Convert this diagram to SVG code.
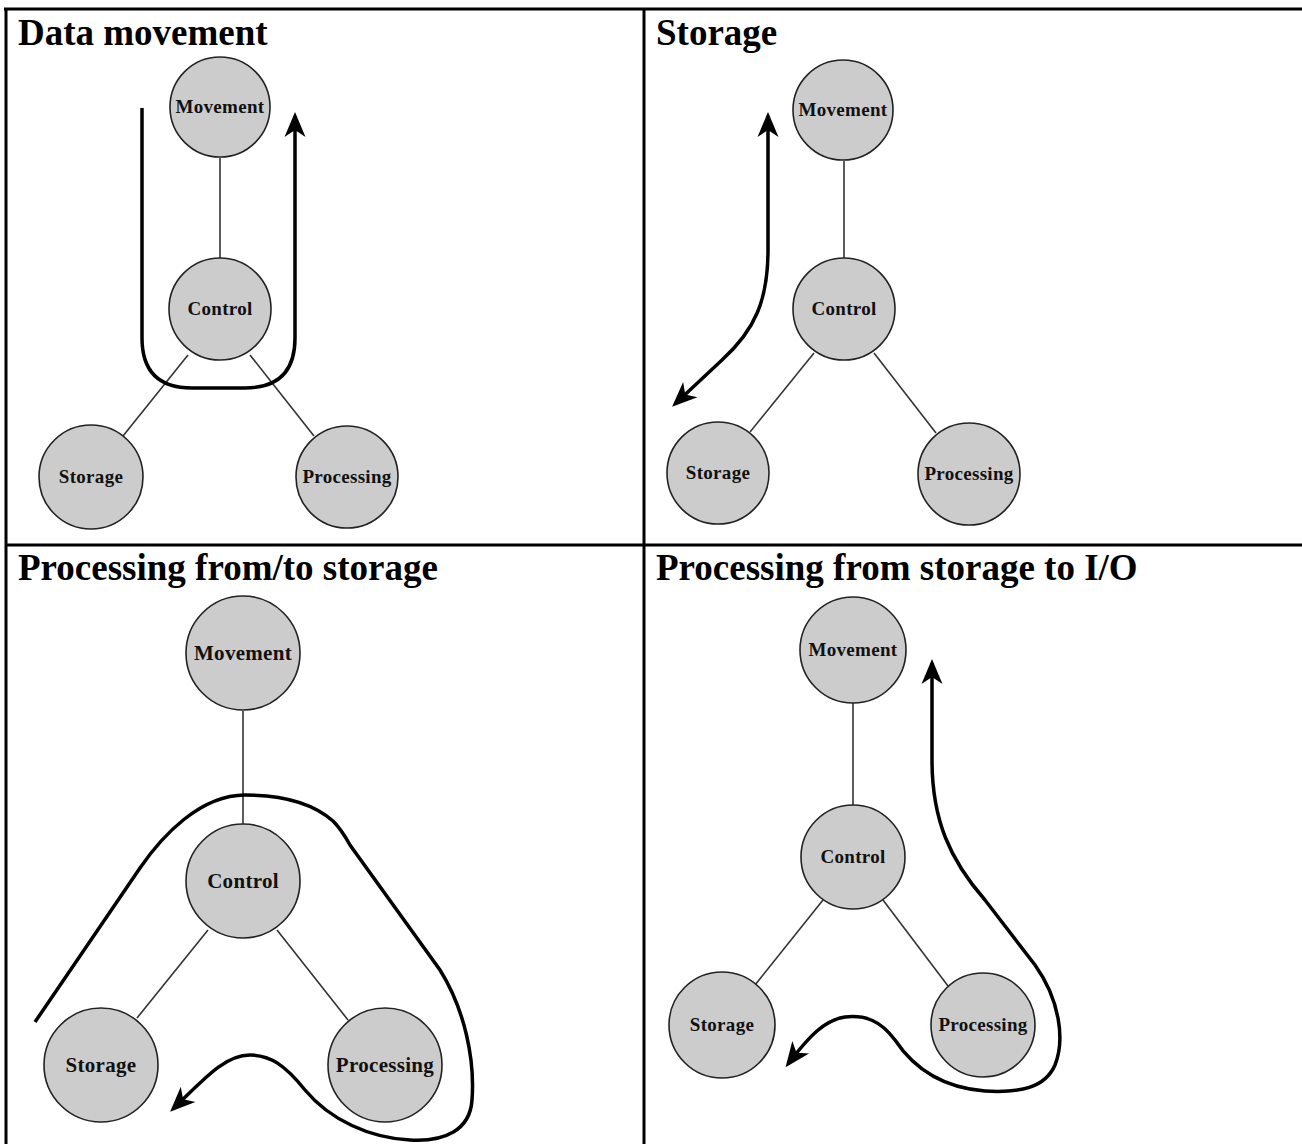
<svg xmlns="http://www.w3.org/2000/svg" width="1302" height="1144" viewBox="0 0 1302 1144">
<style>
.title{font-family:"Liberation Serif","Times New Roman",serif;font-weight:bold;font-size:37px;fill:#000}
.node circle{fill:#cccccc;stroke:#222;stroke-width:1.6}
.node text{font-family:"Liberation Serif","Times New Roman",serif;font-weight:bold;text-anchor:middle;fill:#111;letter-spacing:0.3px}
.s19 text{font-size:19px}
.s21 text{font-size:21px}
.link{stroke:#333;stroke-width:1.6;fill:none}
.flow{stroke:#000;stroke-width:3.5;fill:none}
.grid{stroke:#000;stroke-width:3}
</style>
<defs>
<marker id="ah" viewBox="-28 -13 32 26" markerWidth="32" markerHeight="26" refX="-4" refY="0" orient="auto-start-reverse" markerUnits="userSpaceOnUse">
<path d="M0,0 L-25,-10.5 L-18,0 L-25,10.5 Z" fill="#000"/>
</marker>
</defs>
<rect width="1302" height="1144" fill="#fff"/>
<g id="table">
<line class="grid" x1="4" y1="9" x2="1302" y2="9"/>
<line class="grid" x1="6" y1="9" x2="6" y2="1144"/>
<line class="grid" x1="644" y1="9" x2="644" y2="1144"/>
<line class="grid" x1="6" y1="545" x2="1302" y2="545"/>
</g>
<g id="titles">
<text class="title" x="18" y="45">Data movement</text>
<text class="title" x="656" y="45">Storage</text>
<text class="title" x="18" y="580">Processing from/to storage</text>
<text class="title" x="656" y="580">Processing from storage to I/O</text>
</g>
<g id="connectors">
<line class="link" x1="220" y1="158" x2="220" y2="258"/>
<line class="link" x1="188" y1="355" x2="123" y2="436"/>
<line class="link" x1="250" y1="355" x2="314" y2="436"/>
<line class="link" x1="844" y1="161" x2="844" y2="259"/>
<line class="link" x1="814" y1="353" x2="750" y2="432"/>
<line class="link" x1="874" y1="353" x2="936" y2="433"/>
<line class="link" x1="243" y1="711" x2="243" y2="824"/>
<line class="link" x1="208" y1="930" x2="137" y2="1018"/>
<line class="link" x1="277" y1="930" x2="348" y2="1020"/>
<line class="link" x1="853" y1="703" x2="853" y2="805"/>
<line class="link" x1="823" y1="900" x2="755" y2="985"/>
<line class="link" x1="883" y1="900" x2="948" y2="986"/>
<path class="flow" d="M142,108 V338 Q142,388 192,388 H245 Q295,388 295,338 V116" marker-end="url(#ah)"/>
<path class="flow" d="M768,116 V250 C768,300 755,330 722,360 L675,404" marker-start="url(#ah)" marker-end="url(#ah)"/>
<path class="flow" d="M35,1022 L140,868 C162,836 200,795 245,795 C285,795 315,805 333,821 C340,828 345,836 350,845 L440,970 C465,1010 475,1060 472,1100 C470,1130 445,1142 410,1140 C370,1138 330,1120 305,1090 C285,1065 270,1055 250,1055 C225,1055 205,1078 173,1109" marker-end="url(#ah)"/>
<path class="flow" d="M932,663 L932,760 C932,820 950,860 985,900 L1035,965 C1060,1000 1065,1040 1055,1065 C1045,1088 1020,1093 985,1091 C945,1088 915,1070 895,1040 C880,1020 865,1015 845,1017 C825,1020 810,1035 788,1064" marker-start="url(#ah)" marker-end="url(#ah)"/>
</g>
<g id="p1-movement" class="node s19"><circle cx="220" cy="107" r="50"/><text x="220" y="113">Movement</text></g>
<g id="p1-control" class="node s19"><circle cx="220" cy="309" r="51"/><text x="220" y="315">Control</text></g>
<g id="p1-storage" class="node s19"><circle cx="91" cy="477" r="52"/><text x="91" y="483">Storage</text></g>
<g id="p1-processing" class="node s19"><circle cx="347" cy="477" r="51"/><text x="347" y="483">Processing</text></g>
<g id="p2-movement" class="node s19"><circle cx="843" cy="110" r="50"/><text x="843" y="116">Movement</text></g>
<g id="p2-control" class="node s19"><circle cx="844" cy="309" r="51"/><text x="844" y="315">Control</text></g>
<g id="p2-storage" class="node s19"><circle cx="718" cy="473" r="51"/><text x="718" y="479">Storage</text></g>
<g id="p2-processing" class="node s19"><circle cx="969" cy="474" r="51"/><text x="969" y="480">Processing</text></g>
<g id="p3-movement" class="node s21"><circle cx="243" cy="653" r="57"/><text x="243" y="660">Movement</text></g>
<g id="p3-control" class="node s21"><circle cx="243" cy="881" r="57"/><text x="243" y="888">Control</text></g>
<g id="p3-storage" class="node s21"><circle cx="101" cy="1065" r="57"/><text x="101" y="1072">Storage</text></g>
<g id="p3-processing" class="node s21"><circle cx="385" cy="1065" r="57"/><text x="385" y="1072">Processing</text></g>
<g id="p4-movement" class="node s19"><circle cx="853" cy="650" r="53"/><text x="853" y="656">Movement</text></g>
<g id="p4-control" class="node s19"><circle cx="853" cy="857" r="52"/><text x="853" y="863">Control</text></g>
<g id="p4-storage" class="node s19"><circle cx="722" cy="1025" r="53"/><text x="722" y="1031">Storage</text></g>
<g id="p4-processing" class="node s19"><circle cx="983" cy="1025" r="52"/><text x="983" y="1031">Processing</text></g>
</svg>
